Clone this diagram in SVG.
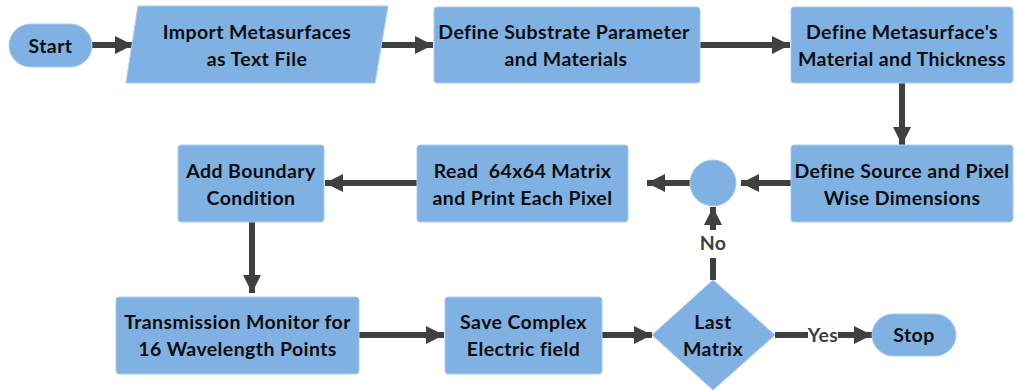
<svg xmlns="http://www.w3.org/2000/svg" width="1017" height="390" viewBox="0 0 1017 390">
<style>
.n{fill:#80B1E3;stroke:#A9CBEF;stroke-width:1}
.t{font-family:Lato,"Open Sans",sans-serif;font-weight:bold;font-size:19.5px;letter-spacing:0.4px;fill:#0D0D0D;text-anchor:middle}
.l{font-family:Lato,"Open Sans",sans-serif;font-weight:bold;font-size:19.5px;letter-spacing:0.4px;fill:#404040;text-anchor:middle}
.c{stroke:#404040;stroke-width:6;fill:none}
</style>
<defs>
<marker id="ah" markerUnits="userSpaceOnUse" markerWidth="18" markerHeight="18" refX="18" refY="9" orient="auto">
<path d="M0,0 L18,9 L0,18 z" fill="#404040"/>
</marker>
</defs>
<rect width="1017" height="390" fill="#FFFFFF"/>
<g id="connectors">
<line class="c" x1="92" y1="45" x2="133" y2="45" marker-end="url(#ah)"/>
<line class="c" x1="375" y1="45" x2="433" y2="45" marker-end="url(#ah)"/>
<line class="c" x1="700" y1="45" x2="790" y2="45" marker-end="url(#ah)"/>
<line class="c" x1="902" y1="83" x2="902" y2="145" marker-end="url(#ah)"/>
<line class="c" x1="791" y1="183" x2="741" y2="183" marker-end="url(#ah)"/>
<line class="c" x1="690" y1="183" x2="647" y2="183" marker-end="url(#ah)"/>
<line class="c" x1="417" y1="183" x2="325" y2="183" marker-end="url(#ah)"/>
<line class="c" x1="252" y1="222" x2="252" y2="293" marker-end="url(#ah)"/>
<line class="c" x1="359" y1="335" x2="444" y2="335" marker-end="url(#ah)"/>
<line class="c" x1="602" y1="335" x2="652" y2="335" marker-end="url(#ah)"/>
<line class="c" x1="775" y1="335" x2="808" y2="335"/>
<line class="c" x1="838" y1="335" x2="872" y2="335" marker-end="url(#ah)"/>
<line class="c" x1="713" y1="280" x2="713" y2="258"/>
<line class="c" x1="713" y1="230" x2="713" y2="207" marker-end="url(#ah)"/>
<text class="l" x="823" y="342">Yes</text>
<text class="l" x="713" y="250">No</text>
</g>
<g id="start">
<rect class="n" x="9" y="24" width="83" height="43" rx="21.5"/>
<text class="t" x="50.5" y="52.5">Start</text>
</g>
<g id="import">
<polygon class="n" points="138,6 388,6 375,83 126,83"/>
<text class="t" x="257" y="39">Import Metasurfaces</text>
<text class="t" x="257" y="66">as Text File</text>
</g>
<g id="substrate">
<rect class="n" x="434" y="7" width="266" height="76" rx="3"/>
<text class="t" x="564" y="39">Define Substrate Parameter</text>
<text class="t" x="566" y="66">and Materials</text>
</g>
<g id="material">
<rect class="n" x="791" y="7" width="222" height="76" rx="3"/>
<text class="t" x="902" y="39">Define Metasurface's</text>
<text class="t" x="902" y="66">Material and Thickness</text>
</g>
<g id="source">
<rect class="n" x="791" y="145" width="222" height="77" rx="3"/>
<text class="t" x="902" y="178">Define Source and Pixel</text>
<text class="t" x="902" y="205">Wise Dimensions</text>
</g>
<g id="junction">
<circle class="n" cx="713" cy="183" r="23"/>
</g>
<g id="read">
<rect class="n" x="417" y="145" width="211" height="77" rx="3"/>
<text class="t" x="522.5" y="178" style="white-space:pre">Read  64x64 Matrix</text>
<text class="t" x="522.5" y="205">and Print Each Pixel</text>
</g>
<g id="boundary">
<rect class="n" x="178" y="145" width="146" height="77" rx="3"/>
<text class="t" x="251" y="178">Add Boundary</text>
<text class="t" x="251" y="205">Condition</text>
</g>
<g id="transmission">
<rect class="n" x="116" y="297" width="243" height="77" rx="3"/>
<text class="t" x="237.5" y="329">Transmission Monitor for</text>
<text class="t" x="237.5" y="356">16 Wavelength Points</text>
</g>
<g id="save">
<rect class="n" x="445" y="297" width="157" height="77" rx="3"/>
<text class="t" x="523.5" y="329">Save Complex</text>
<text class="t" x="523.5" y="356">Electric field</text>
</g>
<g id="last">
<polygon class="n" points="713,280 775,335 713,390 652,335"/>
<text class="t" x="713" y="329">Last</text>
<text class="t" x="713" y="356">Matrix</text>
</g>
<g id="stop">
<rect class="n" x="872" y="314" width="84" height="42" rx="21"/>
<text class="t" x="914" y="342">Stop</text>
</g>
</svg>
